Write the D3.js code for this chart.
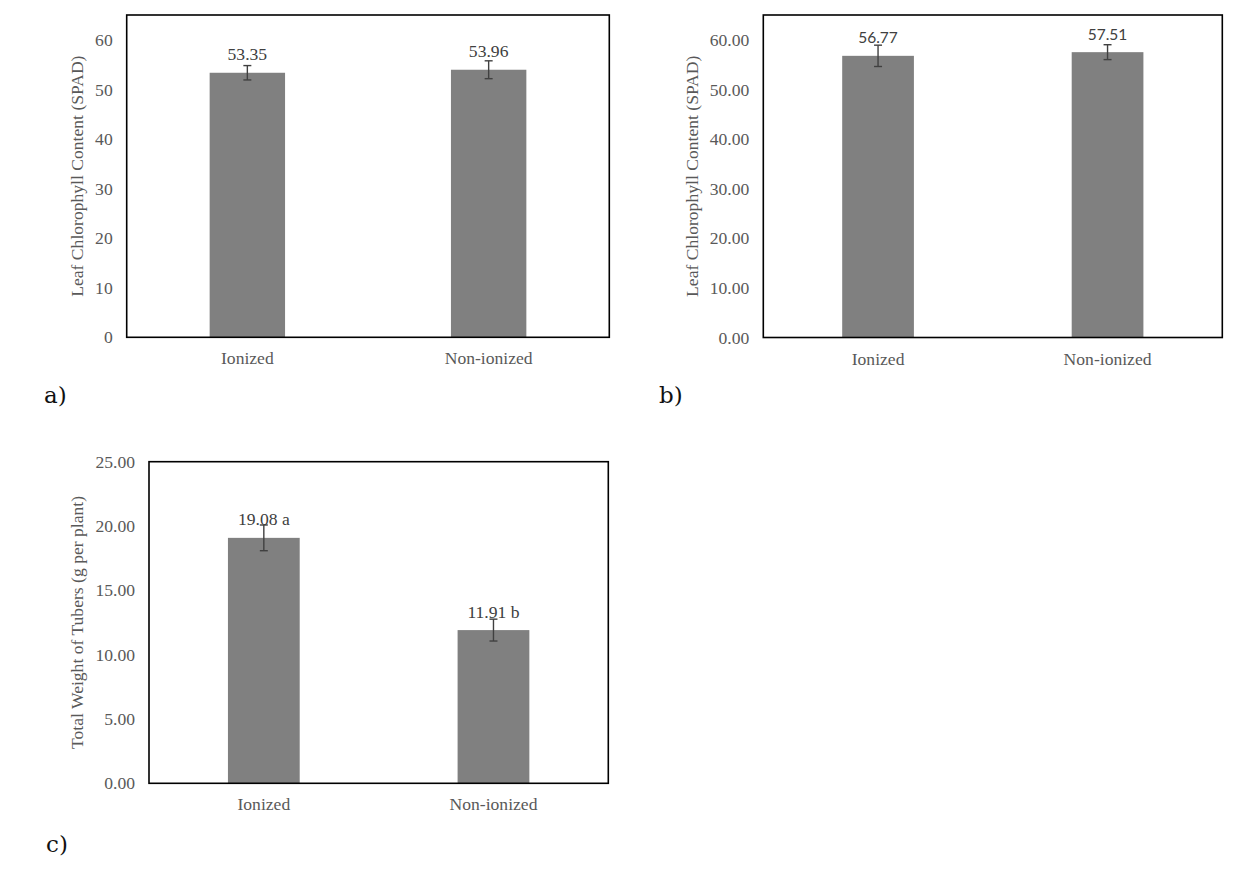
<!DOCTYPE html>
<html>
<head>
<meta charset="utf-8">
<script src="https://cdn.jsdelivr.net/npm/d3@7/dist/d3.min.js"></script>
<style>
  html, body { margin: 0; padding: 0; background: #fff; }
  svg { display: block; }
</style>
</head>
<body>
<svg id="chart" width="1252" height="882"></svg>
<script>
// ---------------- DATA ----------------
const categories = ["Ionized", "Non-ionized"];

const chlorophyllA = [53.35, 53.96];
const chlorophyllAErr = [1.45, 1.8];
const chlorophyllALabels = ["53.35", "53.96"];

const chlorophyllB = [56.77, 57.51];
const chlorophyllBErr = [2.15, 1.5];
const chlorophyllBLabels = ["56.77", "57.51"];

const tuberWeight = [19.08, 11.91];
const tuberWeightErr = [1.0, 0.85];
const tuberWeightLabels = ["19.08 a", "11.91 b"];

const ticksA = [0, 10, 20, 30, 40, 50, 60];
const ticksB = [0, 10, 20, 30, 40, 50, 60];
const ticksC = [0, 5, 10, 15, 20, 25];

const titleA = "Leaf Chlorophyll Content (SPAD)";
const titleB = "Leaf Chlorophyll Content (SPAD)";
const titleC = "Total Weight of Tubers (g per plant)";

// ---------------- LAYOUT ----------------
const SERIF = "'Liberation Serif', 'Times New Roman', serif";
const SANS = "Lato, 'Liberation Sans', sans-serif";

const panels = [
  { values: chlorophyllA, errs: chlorophyllAErr, labels: chlorophyllALabels, ticks: ticksA,
    max: 65, fmt: d3.format("d"), title: titleA, labelFont: SERIF, labelSize: 17.6,
    x0: 126.7, x1: 609.3, y0: 15, y1: 337.3, titleX: 83, tag: "a)", tagX: 44, tagY: 403 },
  { values: chlorophyllB, errs: chlorophyllBErr, labels: chlorophyllBLabels, ticks: ticksB,
    max: 65, fmt: d3.format(".2f"), title: titleB, labelFont: SANS, labelSize: 15.5,
    x0: 763.3, x1: 1222.3, y0: 15, y1: 337.5, titleX: 698, tag: "b)", tagX: 659, tagY: 403 },
  { values: tuberWeight, errs: tuberWeightErr, labels: tuberWeightLabels, ticks: ticksC,
    max: 25, fmt: d3.format(".2f"), title: titleC, labelFont: SERIF, labelSize: 17.6,
    x0: 149, x1: 608.3, y0: 461.7, y1: 783.3, titleX: 82.5, tag: "c)", tagX: 46, tagY: 852 }
];

const svg = d3.select("#chart");
svg.append("rect").attr("width", 1252).attr("height", 882).attr("fill", "#fff");

panels.forEach(p => {
  const g = svg.append("g");
  const x = d3.scaleBand().domain(categories).range([p.x0, p.x1])
    .paddingInner(0.6875).paddingOuter(0.34375);
  const y = d3.scaleLinear().domain([0, p.max]).range([p.y1, p.y0]);

  // bars
  g.selectAll("rect.bar").data(categories).join("rect")
    .attr("class", "bar")
    .attr("x", d => x(d))
    .attr("width", x.bandwidth())
    .attr("y", (d, i) => y(p.values[i]))
    .attr("height", (d, i) => y(0) - y(p.values[i]))
    .attr("fill", "#808080");

  // error bars
  const eb = g.selectAll("g.err").data(categories).join("g").attr("class", "err")
    .attr("stroke", "#404040").attr("stroke-width", 1.4);
  eb.append("line")
    .attr("x1", d => x(d) + x.bandwidth() / 2).attr("x2", d => x(d) + x.bandwidth() / 2)
    .attr("y1", (d, i) => y(p.values[i] + p.errs[i]))
    .attr("y2", (d, i) => y(p.values[i] - p.errs[i]));
  eb.append("line")
    .attr("x1", d => x(d) + x.bandwidth() / 2 - 4).attr("x2", d => x(d) + x.bandwidth() / 2 + 4)
    .attr("y1", (d, i) => y(p.values[i] + p.errs[i]))
    .attr("y2", (d, i) => y(p.values[i] + p.errs[i]));
  eb.append("line")
    .attr("x1", d => x(d) + x.bandwidth() / 2 - 4).attr("x2", d => x(d) + x.bandwidth() / 2 + 4)
    .attr("y1", (d, i) => y(p.values[i] - p.errs[i]))
    .attr("y2", (d, i) => y(p.values[i] - p.errs[i]));

  // data labels
  g.selectAll("text.dl").data(categories).join("text")
    .attr("class", "dl")
    .attr("x", d => x(d) + x.bandwidth() / 2)
    .attr("y", (d, i) => y(p.values[i]) - 12.5)
    .attr("text-anchor", "middle")
    .attr("font-family", p.labelFont)
    .attr("font-size", p.labelSize)
    .attr("fill", "#404040")
    .text((d, i) => p.labels[i]);

  // y axis labels
  const yAxis = d3.axisLeft(y).tickValues(p.ticks).tickFormat(p.fmt).tickSize(0).tickPadding(14);
  const ya = g.append("g").attr("transform", `translate(${p.x0},0)`).call(yAxis);
  ya.select(".domain").remove();
  ya.selectAll("text").attr("font-family", SERIF).attr("font-size", 17.6).attr("fill", "#595959");

  // x axis labels
  const xAxis = d3.axisBottom(x).tickSize(0).tickPadding(14);
  const xa = g.append("g").attr("transform", `translate(0,${p.y1})`).call(xAxis);
  xa.select(".domain").remove();
  xa.selectAll("text").attr("font-family", SERIF).attr("font-size", 17.6).attr("fill", "#595959")
    .attr("dy", null).attr("y", 27).attr("dominant-baseline", "auto");

  // frame
  g.append("rect")
    .attr("x", p.x0).attr("y", p.y0)
    .attr("width", p.x1 - p.x0).attr("height", p.y1 - p.y0)
    .attr("fill", "none").attr("stroke", "#000").attr("stroke-width", 1.6);

  // y title
  g.append("text")
    .attr("transform", `translate(${p.titleX},${(p.y0 + p.y1) / 2}) rotate(-90)`)
    .attr("text-anchor", "middle")
    .attr("font-family", SERIF).attr("font-size", 17.6).attr("fill", "#595959")
    .text(p.title);

  // panel tag
  svg.append("text")
    .attr("x", p.tagX).attr("y", p.tagY)
    .attr("font-family", "'DejaVu Serif', serif").attr("font-size", 23).attr("fill", "#111")
    .text(p.tag);
});
</script>
</body>
</html>
